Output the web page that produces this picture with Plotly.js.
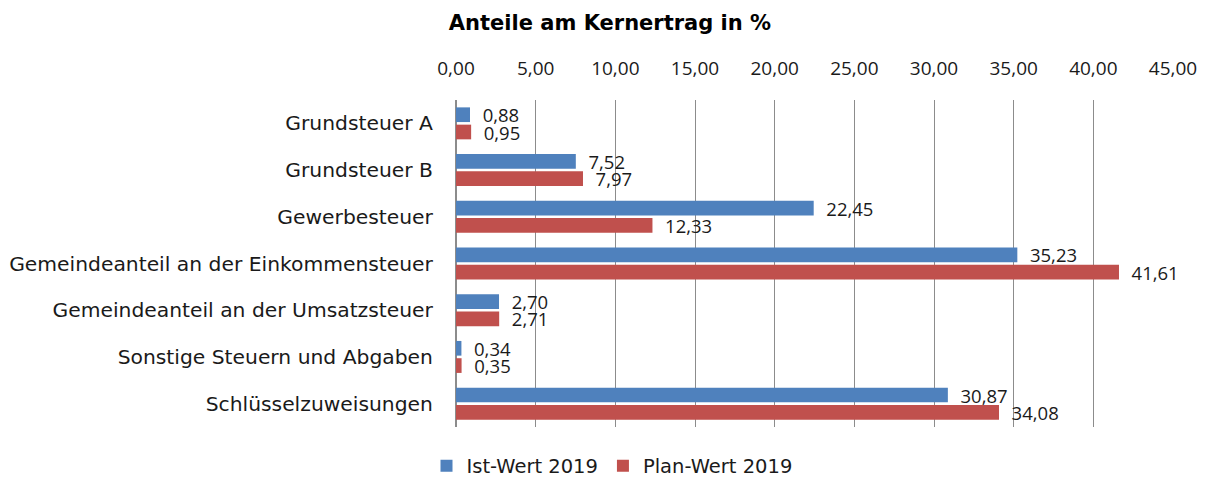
<!DOCTYPE html>
<html>
<head>
<meta charset="utf-8">
<script src="https://cdn.plot.ly/plotly-3.0.1.min.js"></script>
<style>
html,body{margin:0;padding:0;background:#fff;}
#chart{width:1205px;height:479px;}
</style>
</head>
<body>
<div id="chart"></div>
<script>
var categories = [
  "Grundsteuer A",
  "Grundsteuer B",
  "Gewerbesteuer",
  "Gemeindeanteil an der Einkommensteuer",
  "Gemeindeanteil an der Umsatzsteuer",
  "Sonstige Steuern und Abgaben",
  "Schlüsselzuweisungen"
];
var istWert2019 = [0.88, 7.52, 22.45, 35.23, 2.70, 0.34, 30.87];
var planWert2019 = [0.95, 7.97, 12.33, 41.61, 2.71, 0.35, 34.08];
var seriesNames = ["Ist-Wert 2019", "Plan-Wert 2019"];
var tickValues = [0, 5, 10, 15, 20, 25, 30, 35, 40, 45];

var labelFont = {family: "Open Sans, sans-serif", size: 18.5, color: "#1a1a1a"};

function barTrace(name, values, color) {
  return {
    type: "bar",
    orientation: "h",
    name: name,
    y: categories,
    x: values,
    marker: {color: color},
    text: values,
    texttemplate: "\u00a0\u00a0%{x:.2f}",
    textposition: "outside",
    textfont: labelFont,
    constraintext: "none",
    cliponaxis: false,
    hoverinfo: "x+y+name"
  };
}

var data = [
  barTrace(seriesNames[0], istWert2019, "#4F81BD"),
  barTrace(seriesNames[1], planWert2019, "#C0504D")
];

var layout = {
  width: 1205,
  height: 479,
  separators: ",.",
  paper_bgcolor: "#ffffff",
  plot_bgcolor: "#ffffff",
  margin: {l: 456, r: 32, t: 100, b: 52},
  barmode: "group",
  bargap: 0.26,
  bargroupgap: 0.15,
  title: {
    text: "Anteile am Kernertrag in %",
    font: {family: "DejaVu Sans, sans-serif", size: 21, color: "#000", weight: "bold"},
    xref: "container", x: 610 / 1205, xanchor: "center",
    yref: "container", y: 1 - 23 / 479, yanchor: "middle"
  },
  xaxis: {
    side: "top",
    range: [0, 45],
    tickvals: tickValues,
    tickformat: ".2f",
    showgrid: true,
    gridcolor: "#8c8c8c",
    gridwidth: 1,
    zeroline: true,
    zerolinecolor: "#8c8c8c",
    zerolinewidth: 1,
    showline: false,
    ticks: "",
    ticklabelstandoff: 20,
    tickfont: {family: "Open Sans, sans-serif", size: 19, color: "#1a1a1a"},
    fixedrange: true
  },
  yaxis: {
    autorange: "reversed",
    showgrid: false,
    showline: true,
    linecolor: "#8c8c8c",
    linewidth: 1,
    ticks: "",
    ticklabelstandoff: 18,
    tickfont: {family: "DejaVu Sans, sans-serif", size: 20.3, color: "#1a1a1a"},
    fixedrange: true
  },
  showlegend: true,
  legend: {
    orientation: "h",
    xref: "container", x: 612 / 1205, xanchor: "center",
    yref: "container", y: 1 - 466 / 479, yanchor: "middle",
    font: {family: "DejaVu Sans, sans-serif", size: 19.5, color: "#1a1a1a"},
    itemwidth: 30,
    traceorder: "normal"
  }
};

Plotly.newPlot("chart", data, layout, {displayModeBar: false, staticPlot: true});
</script>
</body>
</html>
